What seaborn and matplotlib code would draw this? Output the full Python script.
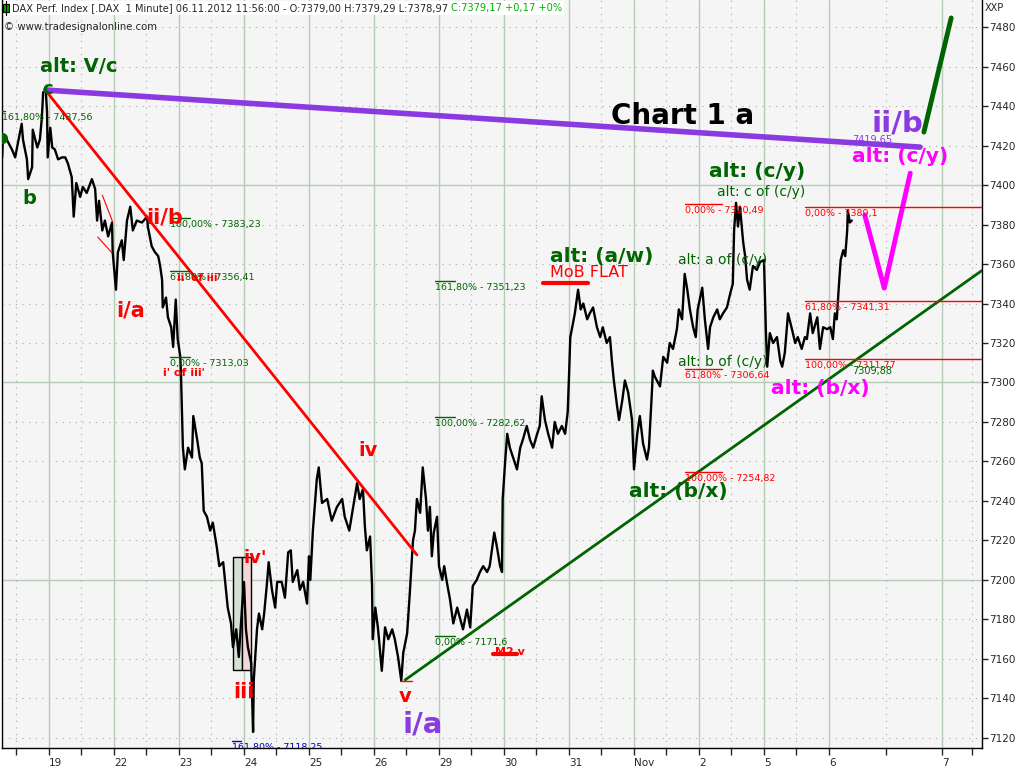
import matplotlib
matplotlib.use("Agg")
import pandas as pd
import matplotlib.pyplot as plt
import seaborn as sns
from matplotlib.patches import Rectangle
from matplotlib.lines import Line2D

# DAX 1-minute closes; position in trading days (0 = open of Oct 19)
day_pos = [
    -0.72, -0.71, -0.65, -0.57, -0.52, -0.48, -0.42, -0.40, -0.34, -0.32,
    -0.26, -0.25, -0.18, -0.14, -0.11, -0.09, -0.05, -0.03, -0.02, 0.02,
    0.05, 0.09, 0.14, 0.20, 0.25, 0.29, 0.35, 0.38, 0.42, 0.48,
    0.52, 0.58, 0.66, 0.71, 0.74, 0.77, 0.82, 0.86, 0.91, 0.97,
    0.98, 1.03, 1.06, 1.12, 1.15, 1.20, 1.25, 1.29, 1.35, 1.43,
    1.51, 1.52, 1.58, 1.63, 1.68, 1.71, 1.74, 1.75, 1.80, 1.83,
    1.88, 1.91, 1.95, 1.98, 2.02, 2.03, 2.05, 2.06, 2.09, 2.14,
    2.20, 2.22, 2.28, 2.32, 2.35, 2.38, 2.43, 2.48, 2.52, 2.58,
    2.62, 2.68, 2.71, 2.75, 2.80, 2.83, 2.88, 2.92, 2.97, 3.00,
    3.03, 3.06, 3.11, 3.14, 3.15, 3.20, 3.23, 3.28, 3.31, 3.35,
    3.38, 3.43, 3.48, 3.51, 3.58, 3.63, 3.68, 3.72, 3.75, 3.82,
    3.86, 3.91, 3.97, 4.00, 4.02, 4.06, 4.12, 4.15, 4.20, 4.28,
    4.35, 4.43, 4.51, 4.55, 4.62, 4.68, 4.74, 4.78, 4.83, 4.86,
    4.89, 4.94, 4.97, 4.98, 5.02, 5.06, 5.12, 5.17, 5.22, 5.28,
    5.32, 5.37, 5.42, 5.45, 5.51, 5.55, 5.60, 5.63, 5.66, 5.71,
    5.75, 5.80, 5.83, 5.86, 5.89, 5.92, 5.97, 6.00, 6.05, 6.08,
    6.12, 6.17, 6.22, 6.28, 6.32, 6.37, 6.43, 6.48, 6.52, 6.58,
    6.63, 6.68, 6.74, 6.78, 6.85, 6.89, 6.94, 6.97, 6.98, 7.02,
    7.05, 7.09, 7.14, 7.20, 7.25, 7.29, 7.35, 7.40, 7.45, 7.51,
    7.55, 7.58, 7.63, 7.68, 7.74, 7.78, 7.83, 7.89, 7.94, 7.98,
    8.00, 8.02, 8.05, 8.09, 8.14, 8.18, 8.22, 8.28, 8.32, 8.37,
    8.43, 8.48, 8.52, 8.58, 8.63, 8.66, 8.69, 8.74, 8.77, 8.82,
    8.86, 8.91, 8.97, 9.00, 9.05, 9.09, 9.14, 9.20, 9.23, 9.28,
    9.29, 9.32, 9.40, 9.45, 9.51, 9.55, 9.60, 9.66, 9.69, 9.74,
    9.78, 9.82, 9.86, 9.91, 9.95, 9.98, 10.05, 10.09, 10.14, 10.17,
    10.22, 10.28, 10.32, 10.37, 10.43, 10.48, 10.52, 10.54, 10.57, 10.60,
    10.63, 10.68, 10.71, 10.74, 10.78, 10.83, 10.89, 10.94, 11.00, 11.03,
    11.05, 11.09, 11.14, 11.20, 11.25, 11.28, 11.32, 11.37, 11.43, 11.48,
    11.52, 11.58, 11.63, 11.66, 11.71, 11.75, 11.82, 11.86, 11.91, 11.97,
    12.02, 12.06, 12.09, 12.12, 12.15, 12.18, 12.22, 12.25, 12.28, 12.29,
    12.32, 12.35,
]
price = [
    7414, 7424, 7423, 7418, 7414, 7421, 7431, 7423, 7413, 7403,
    7409, 7428, 7419, 7423, 7434, 7447, 7448, 7437, 7414, 7429,
    7419, 7418, 7413, 7414, 7414, 7411, 7404, 7384, 7401, 7394,
    7399, 7396, 7403, 7398, 7382, 7392, 7377, 7382, 7374, 7381,
    7366, 7347, 7366, 7372, 7362, 7382, 7389, 7377, 7382, 7381,
    7384, 7379, 7369, 7366, 7364, 7359, 7352, 7338, 7343, 7333,
    7328, 7318, 7342, 7322, 7313, 7305, 7281, 7267, 7256, 7267,
    7262, 7283, 7271, 7262, 7259, 7235, 7232, 7225, 7229, 7217,
    7207, 7209, 7199, 7186, 7178, 7166, 7175, 7161, 7186, 7199,
    7175, 7166, 7158, 7123, 7149, 7175, 7183, 7175, 7183, 7197,
    7209, 7195, 7186, 7199, 7199, 7191, 7214, 7215, 7199, 7205,
    7195, 7199, 7188, 7212, 7200, 7225, 7251, 7257, 7239, 7241,
    7230, 7237, 7241, 7232, 7225, 7237, 7249, 7241, 7246, 7227,
    7215, 7222, 7197, 7170, 7186, 7176, 7154, 7176, 7170, 7175,
    7170, 7161, 7149, 7163, 7173, 7193, 7220, 7225, 7241, 7234,
    7257, 7241, 7225, 7237, 7212, 7224, 7232, 7207, 7200, 7207,
    7199, 7190, 7178, 7186, 7181, 7175, 7185, 7176, 7197, 7200,
    7204, 7207, 7204, 7207, 7224, 7217, 7207, 7204, 7241, 7261,
    7274, 7267, 7262, 7256, 7267, 7271, 7278, 7271, 7267, 7274,
    7278, 7293, 7281, 7274, 7267, 7280, 7274, 7278, 7274, 7285,
    7303, 7323, 7328, 7335, 7347, 7337, 7340, 7332, 7335, 7338,
    7328, 7323, 7328, 7320, 7323, 7311, 7301, 7288, 7281, 7291,
    7301, 7295, 7281, 7256, 7274, 7283, 7269, 7261, 7267, 7298,
    7306, 7303, 7298, 7313, 7310, 7320, 7317, 7327, 7337, 7332,
    7355, 7347, 7337, 7328, 7323, 7337, 7348, 7332, 7317, 7328,
    7333, 7337, 7332, 7335, 7338, 7345, 7350, 7377, 7391, 7379,
    7389, 7371, 7364, 7352, 7347, 7359, 7357, 7361, 7362, 7325,
    7308, 7325, 7320, 7323, 7311, 7308, 7315, 7335, 7327, 7320,
    7323, 7317, 7323, 7322, 7335, 7325, 7333, 7317, 7328, 7327,
    7328, 7322, 7335, 7332, 7348, 7362, 7367, 7364, 7377, 7387,
    7381, 7382,
]

day_ticks = [0, 1, 2, 3, 4, 5, 6, 7, 8, 9, 10, 11, 12, 13.74]
day_labels = ["19", "22", "23", "24", "25", "26", "29", "30", "31", "Nov", "2", "5", "6", "7"]
mid_ticks = [-0.5, 0.5, 1.5, 2.5, 3.5, 4.5, 5.5, 6.5, 7.5, 8.5, 9.5, 10.5, 11.5, 12.87, 14.2]

# fibonacci levels: (start day, end day, level, label)
fib_green = [
    (-0.72, -0.68, 7437.56, "161,80% - 7437,56"),
    (1.86, 2.17, 7383.23, "100,00% - 7383,23"),
    (1.86, 2.17, 7356.41, "61,80% - 7356,41"),
    (1.86, 2.17, 7313.03, "0,00% - 7313,03"),
    (5.94, 6.25, 7351.23, "161,80% - 7351,23"),
    (5.94, 6.25, 7282.62, "100,00% - 7282,62"),
    (5.94, 6.25, 7171.6, "0,00% - 7171,6"),
]
fib_red = [
    (9.78, 10.35, 7390.49, "0,00% - 7390,49"),
    (9.78, 10.35, 7306.64, "61,80% - 7306,64"),
    (9.78, 10.35, 7254.82, "100,00% - 7254,82"),
    (11.63, 14.4, 7389.1, "0,00% - 7389,1"),
    (11.63, 14.4, 7341.31, "61,80% - 7341,31"),
    (11.63, 14.4, 7311.77, "100,00% - 7311,77"),
]
fib_blue = [(2.82, 2.95, 7118.25, "161,80% - 7118,25")]

# trend lines (day, price) end points
red_trend = ([-0.03, 5.66], [7447, 7212.7])
purple_trend = ([-0.05, 13.4], [7448.1, 7419.2])
green_trend = ([5.48, 14.4], [7149.4, 7357.8])
magenta_path = ([12.55, 12.85, 13.25], [7384.8, 7347.8, 7406])
green_forecast = ([13.46, 13.88], [7426.8, 7484.6])

DKGREEN = "#006400"
RED = "#ff0000"
MAGENTA = "#ff00ff"
PURPLE = "#8a3ae0"
GRIDC = "#b7cbb7"

sns.set_style("white")
plt.rcParams['font.family'] = ['DejaVu Sans']

fig = plt.figure(figsize=(10.24, 7.68), dpi=100)
ax = fig.add_axes([2 / 1024, 20 / 768, 980 / 1024, 748 / 768])
ax.set_facecolor("#f5f5f5")

ax.set_xlim(-0.723, 14.354)
ax.set_ylim(7114.9, 7493.7)

# grid: solid at day starts and round hundreds, dotted otherwise
for y in range(7120, 7481, 20):
    if y % 100 == 0:
        ax.axhline(y, color=GRIDC, lw=1, zorder=0)
    else:
        ax.axhline(y, color="#a8a8a8", lw=0.8, ls=(0, (1, 5)), zorder=0)
for x in day_ticks:
    ax.axvline(x, color=GRIDC, lw=1, zorder=0)
for x in mid_ticks:
    ax.axvline(x, color="#a8a8a8", lw=0.8, ls=(0, (1, 5)), zorder=0)

df = pd.DataFrame({"day": day_pos, "price": price})
sns.lineplot(data=df, x="day", y="price", color="black", lw=1.7, sort=False,
             estimator=None, ax=ax, zorder=3)
ax.plot(day_pos[0], 7424, "o", color=DKGREEN, ms=7, zorder=4, clip_on=True)

# trend lines and projections
ax.plot(*red_trend, color=RED, lw=2, zorder=4)
ax.plot(*purple_trend, color=PURPLE, lw=4, zorder=4)
ax.plot(*green_trend, color=DKGREEN, lw=2, zorder=4)
ax.plot(*magenta_path, color=MAGENTA, lw=3.5, zorder=4)
ax.plot(*green_forecast, color=DKGREEN, lw=3.5, zorder=4)
ax.plot([0.82, 0.98], [7394.9, 7381.3], color=RED, lw=0.8, zorder=4)
ax.plot([0.75, 0.97], [7373.7, 7365.6], color=RED, lw=0.8, zorder=4)


def fib(items, color):
    for t0, t1, lvl, lab in items:
        ax.plot([t0, t1], [lvl, lvl], color=color, lw=1, zorder=4)
        ax.annotate(lab, (t0, lvl), xytext=(0, -1.5), textcoords="offset points",
                    ha="left", va="top", fontsize=6.8, color=color, zorder=5,
                    annotation_clip=False, clip_on=True)


fib(fib_green, DKGREEN)
fib(fib_red, RED)
fib(fib_blue, "#0000cc")

# iv' box
ax.add_patch(Rectangle((2.83, 7154.4), 0.14, 57.2, fc="#d3e2d3", ec="black", lw=1, zorder=2))
ax.add_patch(Rectangle((2.97, 7154.4), 0.14, 57.2, fc="#f5d6d6", ec="black", lw=1, zorder=2))

# small underline marks
ax.plot([5.40, 5.58], [7148.9, 7148.9], color=RED, lw=1, zorder=4)
ax.plot([7.60, 8.29], [7350.4, 7350.4], color=RED, lw=3, zorder=4)
ax.plot([6.83, 7.20], [7162.5, 7162.5], color=RED, lw=3, zorder=4)

labels = [
    ("alt: V/c", 0.46, 7460, DKGREEN, 14, "bold"),
    ("c", -0.02, 7448.5, DKGREEN, 13, "bold"),
    ("b", -0.31, 7393.4, DKGREEN, 14, "bold"),
    ("ii/b", 1.78, 7383.8, RED, 15, "bold"),
    ("i/a", 1.25, 7336.7, RED, 15, "bold"),
    ("iv'", 3.17, 7211, RED, 13, "bold"),
    ("iii", 3.0, 7143.3, RED, 15, "bold"),
    ("iv", 4.91, 7265.8, RED, 14, "bold"),
    ("v", 5.48, 7140.8, RED, 14, "bold"),
    ("i/a", 5.75, 7126.6, PURPLE, 21, "bold"),
    ("Chart 1 a", 9.74, 7435, "black", 20, "bold"),
    ("ii/b", 13.05, 7431.4, PURPLE, 21, "bold"),
    ("alt: (c/y)", 13.09, 7414.2, MAGENTA, 14.5, "bold"),
    ("alt: (c/y)", 10.89, 7406.6, DKGREEN, 14.5, "bold"),
    ("alt: c of (c/y)", 10.95, 7396.5, DKGREEN, 10, "normal"),
    ("alt: a of (c/y)", 10.37, 7362, DKGREEN, 10, "normal"),
    ("alt: b of (c/y)", 10.37, 7310.4, DKGREEN, 10, "normal"),
    ("alt: (a/w)", 8.51, 7364, DKGREEN, 14.5, "bold"),
    ("MoB FLAT", 8.31, 7355.5, RED, 11.5, "normal"),
    ("alt: (b/x)", 9.68, 7244.6, DKGREEN, 14.5, "bold"),
    ("alt: (b/x)", 11.86, 7297.2, MAGENTA, 14.5, "bold"),
    ("M2 v", 7.09, 7163.5, RED, 8, "bold"),
]
for txt, t, p, c, fs, fw in labels:
    ax.text(t, p, txt, color=c, fontsize=fs, fontweight=fw, ha="center", va="center", zorder=6)

ax.text(12.35, 7305.8, "7309,88", color=DKGREEN, fontsize=7, ha="left", va="center", zorder=6)
ax.text(12.35, 7422.8, "7419,65", color=PURPLE, fontsize=7, ha="left", va="center", zorder=6)
ax.text(1.75, 7304.8, "i' of iii'", color=RED, fontsize=8, fontweight="bold", ha="left", va="center", zorder=6)
ax.text(1.97, 7353, "ii' of iii'", color=RED, fontsize=7.5, fontweight="bold", ha="left", va="center", zorder=6)

# axes styling
ax.yaxis.tick_right()
ax.set_yticks(range(7120, 7481, 20))
ax.tick_params(axis="y", direction="out", length=4, width=1, labelsize=7.5, pad=1)
ax.set_xticks(day_ticks)
ax.set_xticklabels(day_labels)
for lbl in ax.get_xticklabels():
    lbl.set_ha("left")
ax.set_xticks(mid_ticks, minor=True)
ax.tick_params(axis="x", which="both", direction="out", length=5, width=1,
               labelsize=7.5, pad=2, bottom=True)
ax.set_xlabel("")
ax.set_ylabel("")
ax.spines["top"].set_visible(False)
for s in ["left", "right", "bottom"]:
    ax.spines[s].set_color("black")
    ax.spines[s].set_linewidth(1)

# header
fig.add_artist(Rectangle((3 / 1024, 1 - 12 / 768), 6 / 1024, 8 / 768,
                         transform=fig.transFigure, fc="#00a000", ec="black", lw=0.8))
fig.add_artist(Line2D([6 / 1024, 6 / 1024], [1 - 15 / 768, 1 - 1 / 768],
                      transform=fig.transFigure, color="black", lw=0.8))
h1 = fig.text(12 / 1024, 1 - 8 / 768,
              "DAX Perf. Index [.DAX  1 Minute] 06.11.2012 11:56:00 - O:7379,00 H:7379,29 L:7378,97 ",
              fontsize=7.1, va="center", ha="left",
              bbox=dict(fc="white", ec="none", pad=1.5))
fig.canvas.draw()
bb = h1.get_window_extent()
fig.text(bb.x1 / 1024, 1 - 8 / 768, "C:7379,17 +0,17 +0%", color="#00b000",
         fontsize=7.1, va="center", ha="left", bbox=dict(fc="white", ec="none", pad=1.5))
fig.text(4 / 1024, 1 - 27 / 768, "© www.tradesignalonline.com", fontsize=7.3,
         va="center", ha="left")
fig.text(985 / 1024, 1 - 8 / 768, "XXP", fontsize=7, va="center", ha="left")

fig.savefig("out.png", dpi=100)
